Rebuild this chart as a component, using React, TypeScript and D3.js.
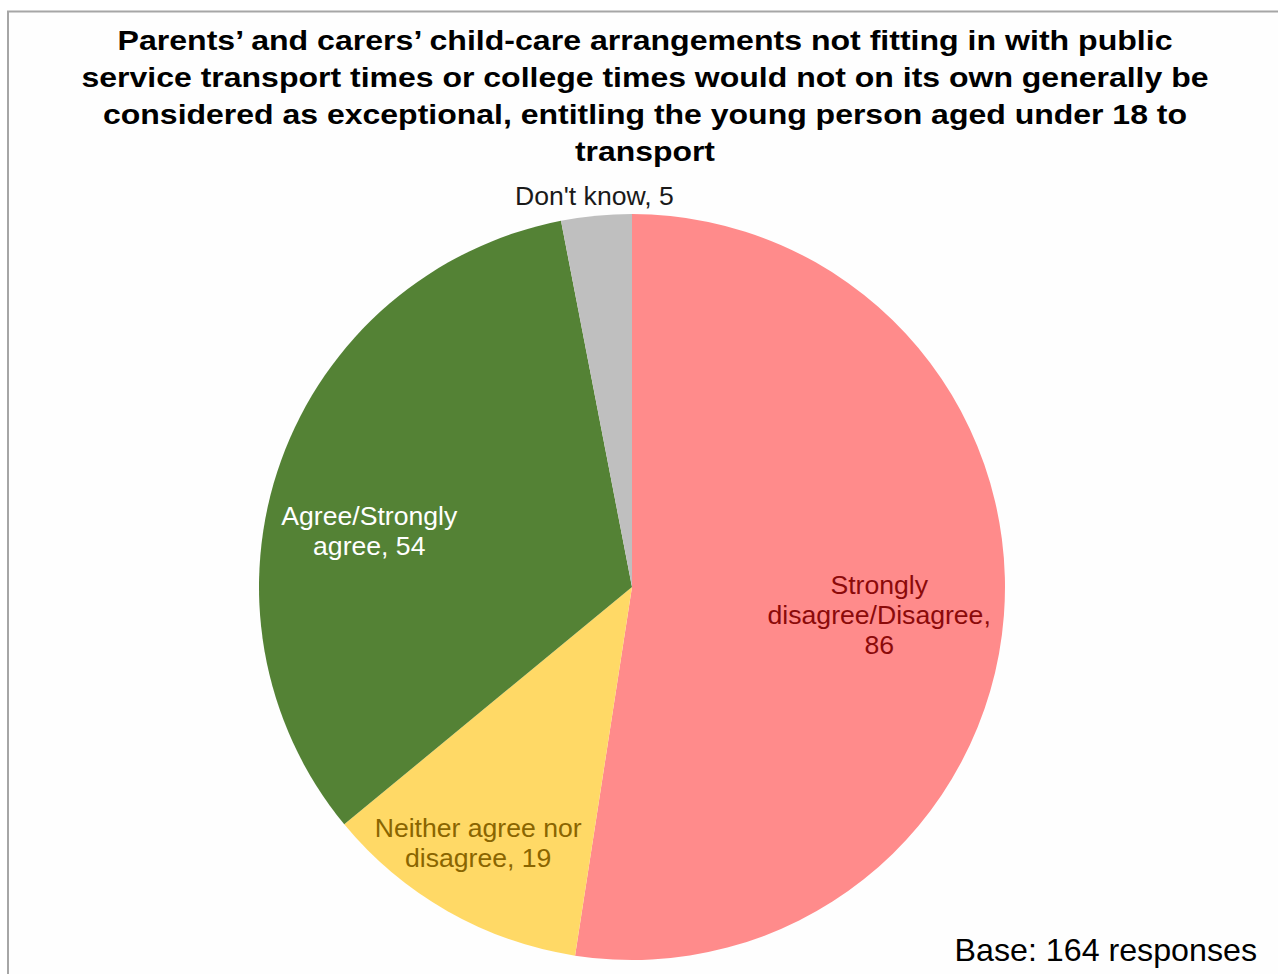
import React from "react";
import * as d3 from "d3";

const categories = [
  "Strongly disagree/Disagree",
  "Neither agree nor disagree",
  "Agree/Strongly agree",
  "Don't know",
];
const values = [86, 19, 54, 5];
const colors = ["#FF8B8B", "#FFD966", "#548235", "#BFBFBF"];
const labelColors = ["#8B0A0A", "#8A6500", "#FFFFFF", "#1A1A1A"];
const labelLines = [
  ["Strongly", "disagree/Disagree,", "86"],
  ["Neither agree nor", "disagree, 19"],
  ["Agree/Strongly", "agree, 54"],
  ["Don't know, 5"],
];
const titleLines = [
  "Parents’ and carers’ child-care arrangements not fitting in with public",
  "service transport times or college times would not on its own generally be",
  "considered as exceptional, entitling the young person aged under 18 to",
  "transport",
];
const titleWidths = [1055, 1127, 1084, 140];
const baseText = "Base: 164 responses";

// label placement: [radius fraction, angle tweak (deg)]
const labelPlacement: [number, number][] = [
  [0.667, 2.1],
  [0.8, 1.4],
  [0.72, -7.8],
  [1.054, 0],
];

export default function App() {
  const W = 1278, H = 974;
  const cx = 632, cy = 587, r = 373;
  const pie = d3.pie<number>().sort(null).value((d) => d);
  const arcs = pie(values);
  const arcGen = d3.arc<d3.PieArcDatum<number>>().innerRadius(0).outerRadius(r);
  const font = "'Liberation Sans', Arial, sans-serif";
  const lh = 30;
  return (
    <svg width={W} height={H} style={{ position: "absolute", left: 0, top: 0 }}>
      <rect x={0} y={0} width={W} height={H} fill="#FFFFFF" />
      <rect x={8} y={11.5} width={W + 20} height={H + 20} fill="#FEFEFE" stroke="#A6A6A6" strokeWidth={2} />
      <g fontFamily={font} fontWeight="bold" fontSize={28} textAnchor="middle" fill="#000">
        {titleLines.map((t, i) => (
          <text key={i} x={645} y={50 + i * 37} textLength={titleWidths[i]} lengthAdjust="spacingAndGlyphs">{t}</text>
        ))}
      </g>
      <g transform={`translate(${cx},${cy})`}>
        {arcs.map((a, i) => (
          <path key={i} d={arcGen(a) || ""} fill={colors[i]} />
        ))}
      </g>
      <g fontFamily={font} fontSize={26.6} textAnchor="middle">
        {arcs.map((a, i) => {
          const [rf, tweak] = labelPlacement[i];
          const ang = (a.startAngle + a.endAngle) / 2 + (tweak * Math.PI) / 180;
          const x = cx + Math.sin(ang) * r * rf;
          const y = cy - Math.cos(ang) * r * rf;
          const lines = labelLines[i];
          const y0 = y - ((lines.length - 1) * lh) / 2;
          return (
            <text key={i} fill={labelColors[i]}>
              {lines.map((l, j) => (
                <tspan key={j} x={x} y={y0 + j * lh + 9}>{l}</tspan>
              ))}
            </text>
          );
        })}
      </g>
      <text x={1257} y={961} fontFamily={font} fontSize={32.2} textAnchor="end" fill="#000">{baseText}</text>
    </svg>
  );
}
